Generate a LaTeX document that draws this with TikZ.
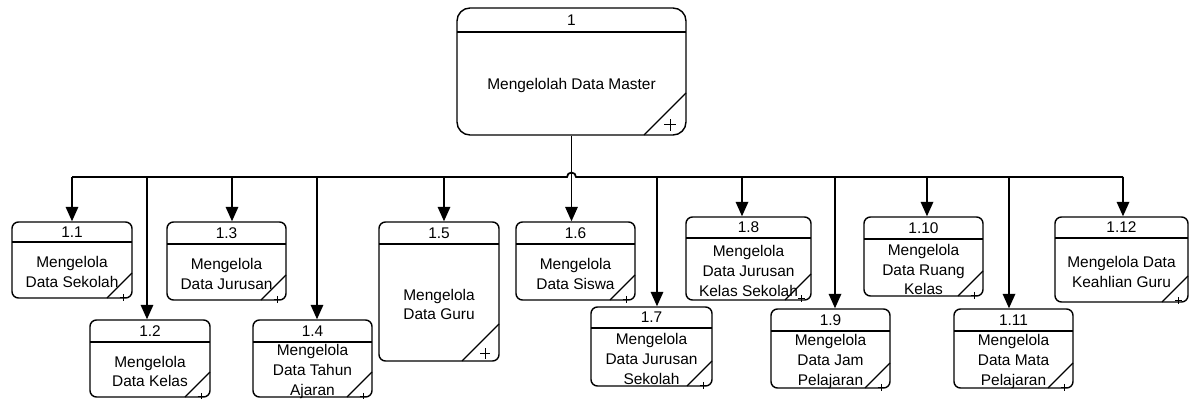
\documentclass[tikz,border=0pt]{standalone}
\usepackage{fontspec}
\setmainfont{Liberation Sans}
\usetikzlibrary{arrows.meta}
\usetikzlibrary{calc}

\tikzset{
  procbox/.style={draw=black,line width=0.8pt,rounded corners=0.13cm,inner sep=0pt},
  lbl/.style={font=\fontsize{8.8}{11.2}\selectfont,inner sep=0pt,align=center},
  conn/.style={draw=black,line width=1pt},
  flow/.style={conn,-{Triangle[width=0.25cm,length=0.29cm]}},
}

% name, x1, y1, x2, y2, header, corner, number, text
\newcommand{\proc}[9]{%
  \node[procbox,minimum width={(#4-#2)*0.02cm},minimum height={(#5-#3)*0.02cm}] (#1) at ({(#2+#4)/2},{(#3+#5)/2}) {};
  \draw[line width=0.7pt] (#2,#6) -- (#4,#6);
  \node[lbl] (#1-num) at ({(#2+#4)/2},{(#3+#6)/2}) {#8};
  \node[lbl] (#1-txt) at ({(#2+#4)/2},{(#6+#5)/2+2}) {#9};
  \draw[line width=0.7pt] (#4,{#5-#7}) -- ({#4-#7},#5);
  \draw[line width=0.5pt] ({#4-0.54*#7+1},{#5-0.55*#7+13}) -- ++({0.28*#7},0)
    ({#4-0.4*#7+1},{#5-0.69*#7+13}) -- ++(0,{0.28*#7});
}

\begin{document}
\begin{tikzpicture}[x=0.02cm,y=-0.02cm]
\useasboundingbox (0,0) rectangle (1197,399);

\begin{scope}[procbox/.append style={rounded corners=0.26cm}]
\proc{p1}{457}{8}{686}{135}{32}{42}{1}{Mengelolah Data Master}
\end{scope}

\proc{p11}{12}{222}{132}{298}{242}{25}{1.1}{Mengelola\\Data Sekolah}
\proc{p12}{90}{320}{210}{397}{342}{25}{1.2}{Mengelola\\Data Kelas}
\proc{p13}{167}{222}{286}{300}{244}{25}{1.3}{Mengelola\\Data Jurusan}
\proc{p14}{253}{320}{372}{397}{342}{25}{1.4}{Mengelola\\Data Tahun\\Ajaran}
\proc{p15}{379}{222}{499}{361}{244}{37}{1.5}{Mengelola\\Data Guru}
\proc{p16}{516}{222}{635}{300}{244}{25}{1.6}{Mengelola\\Data Siswa}
\proc{p17}{591}{307}{712}{386}{328}{25}{1.7}{Mengelola\\Data Jurusan\\Sekolah}
\proc{p18}{686}{217}{811}{300}{238}{26}{1.8}{Mengelola\\Data Jurusan\\Kelas Sekolah}
\proc{p19}{771}{309}{890}{388}{331}{25}{1.9}{Mengelola\\Data Jam\\Pelajaran}
\proc{p110}{864}{217}{983}{296}{239}{25}{1.10}{Mengelola\\Data Ruang\\Kelas}
\proc{p111}{954}{309}{1073}{388}{331}{25}{1.11}{Mengelola\\Data Mata\\Pelajaran}
\proc{p112}{1055}{217}{1188}{302}{238}{26}{1.12}{Mengelola Data\\Keahlian Guru}

% bus
\coordinate (j1) at (72,177);
\coordinate (j2) at (147,177);
\coordinate (j3) at (232,177);
\coordinate (j4) at (317,177);
\coordinate (j5) at (444,177);
\coordinate (j7) at (657,177);
\coordinate (j8) at (742,177);
\coordinate (j9) at (835,177);
\coordinate (j10) at (927,177);
\coordinate (j11) at (1009,177);
\coordinate (j12) at (1123,177);

\draw[conn] (j1) -- ([xshift=-0.09cm]p1.south |- j1) arc[start angle=180,end angle=0,radius=0.09cm] -- (j12);
\draw[flow] (p1.south) -- (p1.south |- p16.north);

\draw[flow] (j1) -- (j1 |- p11.north);
\draw[flow] (j2) -- (j2 |- p12.north);
\draw[flow] (j3) -- (j3 |- p13.north);
\draw[flow] (j4) -- (j4 |- p14.north);
\draw[flow] (j5) -- (j5 |- p15.north);
\draw[flow] (j7) -- (j7 |- p17.north);
\draw[flow] (j8) -- (j8 |- p18.north);
\draw[flow] (j9) -- (j9 |- p19.north);
\draw[flow] (j10) -- (j10 |- p110.north);
\draw[flow] (j11) -- (j11 |- p111.north);
\draw[flow] (j12) -- (j12 |- p112.north);

\end{tikzpicture}
\end{document}
